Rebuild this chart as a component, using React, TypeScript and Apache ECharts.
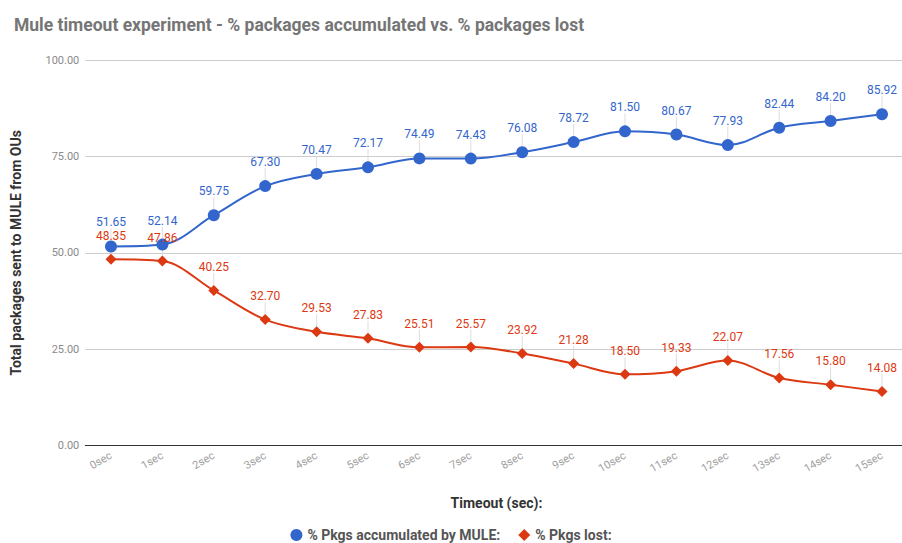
import React, { useEffect, useRef } from "react";
import * as echarts from "echarts";

const categories = ["0sec","1sec","2sec","3sec","4sec","5sec","6sec","7sec","8sec","9sec","10sec","11sec","12sec","13sec","14sec","15sec"];
const accumulated = [51.65,52.14,59.75,67.30,70.47,72.17,74.49,74.43,76.08,78.72,81.50,80.67,77.93,82.44,84.20,85.92];
const lost = [48.35,47.86,40.25,32.70,29.53,27.83,25.51,25.57,23.92,21.28,18.50,19.33,22.07,17.56,15.80,14.08];
const seriesNames = ["% Pkgs accumulated by MULE:", "% Pkgs lost:"];
const yTicks = { min: 0, max: 100, interval: 25 };

const FONT = "Roboto, 'Noto Sans', sans-serif";

export default function App() {
  const ref = useRef<HTMLDivElement>(null);
  useEffect(() => {
    if (!ref.current) return;
    const chart = echarts.init(ref.current, undefined, { renderer: "svg" });
    const mkSeries = (name: string, data: number[], color: string, symbol: string, size: number) => ({
      name,
      type: "line",
      data,
      smooth: 0.35,
      symbol,
      symbolSize: size,
      itemStyle: { color },
      lineStyle: { color, width: 2 },
      label: {
        show: true,
        position: "top",
        distance: 8,
        color,
        fontFamily: FONT,
        fontSize: 12,
        formatter: (p: any) => Number(p.value).toFixed(2),
      },
      labelLayout: { dy: -4 },
      labelLine: { show: true, lineStyle: { color: "#dddddd", width: 1 } },
    });
    chart.setOption({
      animation: false,
      backgroundColor: "#ffffff",
      textStyle: { fontFamily: FONT },
      title: {
        text: "Mule timeout experiment - % packages accumulated vs. % packages lost",
        left: 9,
        top: 11,
        textStyle: { fontFamily: FONT, fontSize: 17.5, fontWeight: "bold", color: "#757575" },
      },
      legend: {
        data: [
          { name: seriesNames[0], icon: "circle" },
          { name: seriesNames[1], icon: "diamond" },
        ],
        top: 523,
        left: "center",
        itemWidth: 12,
        itemHeight: 12,
        itemGap: 18,
        textStyle: { fontFamily: FONT, fontSize: 14, fontWeight: "bold", color: "#555555" },
      },
      grid: { left: 85.3, top: 60, width: 822.4, height: 385.7, containLabel: false, outerBoundsMode: "none" },
      xAxis: {
        type: "category",
        data: categories,
        boundaryGap: true,
        name: "Timeout (sec):",
        nameLocation: "middle",
        nameGap: 50,
        nameTextStyle: { fontFamily: FONT, fontSize: 14, fontWeight: "bold", color: "#333333" },
        axisLine: { show: true, lineStyle: { color: "#333333", width: 1 } },
        axisTick: { show: false },
        axisLabel: { rotate: 30, fontSize: 11, color: "#9e9e9e", margin: 9, fontFamily: FONT },
        splitLine: { show: false },
      },
      yAxis: {
        type: "value",
        min: yTicks.min,
        max: yTicks.max,
        interval: yTicks.interval,
        name: "Total packages sent to MULE from OUs",
        nameLocation: "middle",
        nameGap: 62,
        nameTextStyle: { fontFamily: FONT, fontSize: 14, fontWeight: "bold", color: "#333333" },
        axisLine: { show: false },
        axisTick: { show: false },
        axisLabel: { formatter: (v: number) => v.toFixed(2), fontSize: 11, color: "#8a8a8a", margin: 6, fontFamily: FONT },
        splitLine: { lineStyle: { color: "#cccccc", width: 1 } },
      },
      series: [
        mkSeries(seriesNames[0], accumulated, "#3366cc", "circle", 12),
        mkSeries(seriesNames[1], lost, "#dc3912", "diamond", 11),
      ],
    });
    return () => chart.dispose();
  }, []);
  return <div ref={ref} style={{ position: "fixed", left: 0, top: 0, width: 902, height: 543, overflow: "hidden" }} />;
}
